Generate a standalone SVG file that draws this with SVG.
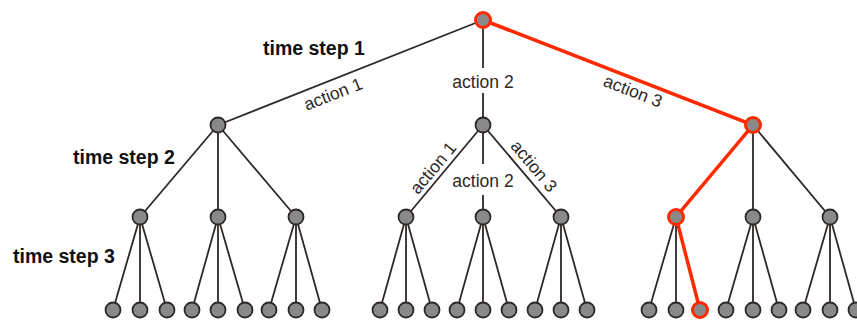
<svg xmlns="http://www.w3.org/2000/svg" width="857" height="321" viewBox="0 0 857 321">
<style>
.e{stroke:#2e2826;stroke-width:1.8;fill:none}
.r{stroke:#ff2a00;stroke-width:3.5;fill:none;stroke-linecap:round}
.n{fill:#898989;stroke:#2e2826;stroke-width:1.8}
.nr{fill:#898989;stroke:#ff2a00;stroke-width:3}
.lbl{font-family:"Liberation Sans",Arial,sans-serif;font-size:17.5px;fill:#2e2826}
.ts{font-family:"Liberation Sans",Arial,sans-serif;font-size:19.5px;font-weight:bold;fill:#111}
</style>
<rect width="857" height="321" fill="#fff"/>
<g id="connectors">
<path class="e" d="M483,20 L218,125 M483,20 L483,68 M483,93 L483,125"/>
<path class="e" d="M218,125 L140,217 M218,125 L218,217 M218,125 L296,217"/>
<path class="e" d="M483,125 L406,217 M483,125 L483,164 M483,195 L483,217 M483,125 L561,217"/>
<path class="e" d="M753,125 L753,217 M753,125 L830,217"/>
<path class="e" d="M140,217 L113,310 M140,217 L140,310 M140,217 L167,310 M218,217 L192,310 M218,217 L218,310 M218,217 L245,310 M296,217 L269,310 M296,217 L296,310 M296,217 L322,310"/>
<path class="e" d="M406,217 L380,310 M406,217 L406,310 M406,217 L432,310 M483,217 L457,310 M483,217 L483,310 M483,217 L509,310 M561,217 L535,310 M561,217 L561,310 M561,217 L587,310"/>
<path class="e" d="M676,217 L649,310 M676,217 L676,310 M753,217 L726,310 M753,217 L753,310 M753,217 L779,310 M830,217 L803,310 M830,217 L830,310 M830,217 L856,310"/>
<path class="r" d="M483,20 L753,125 L676,217 L700,310"/>
</g>
<g id="labels">
<text class="ts" x="263" y="55">time step 1</text>
<text class="ts" x="73" y="164">time step 2</text>
<text class="ts" x="13" y="263">time step 3</text>
<text class="lbl" transform="translate(333,94) rotate(-21.6)" x="0" y="6" text-anchor="middle">action 1</text>
<text class="lbl" x="483" y="88" text-anchor="middle">action 2</text>
<text class="lbl" transform="translate(633,91) rotate(21.3)" x="0" y="6" text-anchor="middle">action 3</text>
<text class="lbl" transform="translate(433,168) rotate(-50)" x="0" y="6" text-anchor="middle">action 1</text>
<text class="lbl" x="483" y="187" text-anchor="middle">action 2</text>
<text class="lbl" transform="translate(534,166) rotate(50)" x="0" y="6" text-anchor="middle">action 3</text>
</g>
<g id="root"><circle class="nr" cx="483" cy="20" r="7.5"/></g>
<g id="s1"><circle class="n" cx="218" cy="125" r="7.5"/></g>
<g id="s2"><circle class="n" cx="483" cy="125" r="7.5"/></g>
<g id="s3"><circle class="nr" cx="753" cy="125" r="7.5"/></g>
<g id="s11"><circle class="n" cx="140" cy="217" r="7.5"/></g>
<g id="s12"><circle class="n" cx="218" cy="217" r="7.5"/></g>
<g id="s13"><circle class="n" cx="296" cy="217" r="7.5"/></g>
<g id="s21"><circle class="n" cx="406" cy="217" r="7.5"/></g>
<g id="s22"><circle class="n" cx="483" cy="217" r="7.5"/></g>
<g id="s23"><circle class="n" cx="561" cy="217" r="7.5"/></g>
<g id="s31"><circle class="nr" cx="676" cy="217" r="7.5"/></g>
<g id="s32"><circle class="n" cx="753" cy="217" r="7.5"/></g>
<g id="s33"><circle class="n" cx="830" cy="217" r="7.5"/></g>
<g id="leaves1">
<circle class="n" cx="113" cy="310" r="7.5"/><circle class="n" cx="140" cy="310" r="7.5"/><circle class="n" cx="167" cy="310" r="7.5"/>
<circle class="n" cx="192" cy="310" r="7.5"/><circle class="n" cx="218" cy="310" r="7.5"/><circle class="n" cx="245" cy="310" r="7.5"/>
<circle class="n" cx="269" cy="310" r="7.5"/><circle class="n" cx="296" cy="310" r="7.5"/><circle class="n" cx="322" cy="310" r="7.5"/>
</g>
<g id="leaves2">
<circle class="n" cx="380" cy="310" r="7.5"/><circle class="n" cx="406" cy="310" r="7.5"/><circle class="n" cx="432" cy="310" r="7.5"/>
<circle class="n" cx="457" cy="310" r="7.5"/><circle class="n" cx="483" cy="310" r="7.5"/><circle class="n" cx="509" cy="310" r="7.5"/>
<circle class="n" cx="535" cy="310" r="7.5"/><circle class="n" cx="561" cy="310" r="7.5"/><circle class="n" cx="587" cy="310" r="7.5"/>
</g>
<g id="leaves3">
<circle class="n" cx="649" cy="310" r="7.5"/><circle class="n" cx="676" cy="310" r="7.5"/><circle class="nr" cx="700" cy="310" r="7.5"/>
<circle class="n" cx="726" cy="310" r="7.5"/><circle class="n" cx="753" cy="310" r="7.5"/><circle class="n" cx="779" cy="310" r="7.5"/>
<circle class="n" cx="803" cy="310" r="7.5"/><circle class="n" cx="830" cy="310" r="7.5"/><circle class="n" cx="856" cy="310" r="7.5"/>
</g>
</svg>
